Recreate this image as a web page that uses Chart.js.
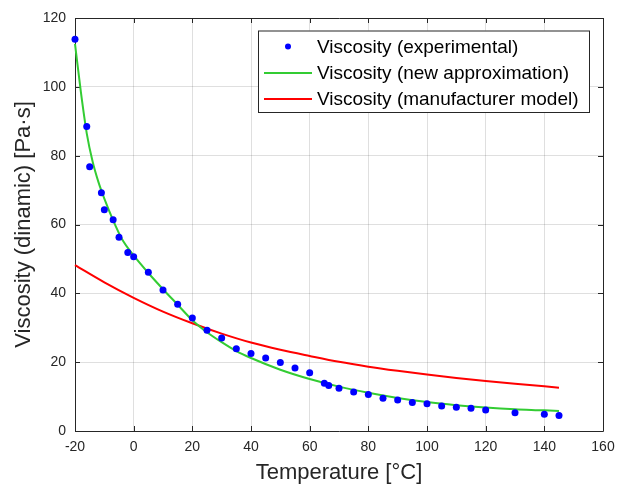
<!DOCTYPE html>
<html>
<head>
<meta charset="utf-8">
<script src="https://cdn.jsdelivr.net/npm/chart.js@4/dist/chart.umd.min.js"></script>
<style>
  html, body { margin: 0; padding: 0; background: #ffffff; }
  #wrap { width: 619px; height: 493px; }
</style>
</head>
<body>
<div id="wrap"><canvas id="c" width="619" height="493"></canvas></div>
<script>
// Experimental data (temperature in °C, viscosity in Pa·s)
const expTemps = [-20, -16, -15, -11, -10, -7, -5, -2, 0, 5, 10, 15, 20, 25, 30, 35, 40, 45, 50, 55, 60, 65, 66.5, 70, 75, 80, 85, 90, 95, 100, 105, 110, 115, 120, 130, 140, 145];
const expVisc  = [113.8, 88.5, 76.8, 69.2, 64.3, 61.4, 56.3, 51.9, 50.6, 46.1, 41.0, 36.8, 32.8, 29.3, 27.0, 23.9, 22.5, 21.2, 19.9, 18.3, 16.9, 13.9, 13.2, 12.4, 11.3, 10.6, 9.5, 9.0, 8.3, 7.9, 7.3, 6.9, 6.6, 6.1, 5.3, 4.9, 4.5];

// New approximation curve
const newTemps = [-20, -18, -16, -14, -12, -10, -7, -4, 0, 5, 10, 15, 20, 25, 30, 35, 40, 50, 60, 70, 80, 90, 100, 110, 120, 130, 140, 145];
const newVisc  = [112.5, 98.5, 86.5, 78.3, 72.3, 67.5, 61.2, 55.8, 51.0, 45.9, 41.2, 36.7, 32.2, 28.7, 25.8, 23.2, 21.2, 17.8, 15.1, 12.9, 11.1, 9.6, 8.4, 7.5, 6.8, 6.3, 6.0, 5.8];

// Manufacturer model curve
const mfrTemps = [-20, -10, 0, 10, 20, 30, 40, 50, 60, 70, 80, 90, 100, 110, 120, 130, 140, 145];
const mfrVisc  = [48.2, 43.2, 38.7, 34.7, 31.3, 28.3, 25.7, 23.6, 21.8, 20.1, 18.7, 17.5, 16.4, 15.4, 14.5, 13.7, 13.0, 12.6];

// Axis ticks
const xTicks = [-20, 0, 20, 40, 60, 80, 100, 120, 140, 160];
const yTicks = [0, 20, 40, 60, 80, 100, 120];

const seriesLabels = ['Viscosity (experimental)', 'Viscosity (new approximation)', 'Viscosity (manufacturer model)'];
const xTitle = 'Temperature [°C]';
const yTitle = 'Viscosity (dinamic) [Pa·s]';

const FONT = '"Liberation Sans", Arial, Helvetica, sans-serif';
const AXIS_COLOR = '#262626';
const BLUE = '#0000ff', GREEN = '#33cc33', RED = '#ff0000';

const toXY = (xs, ys) => xs.map((x, i) => ({ x: x, y: ys[i] }));

// Box + inward tick marks (MATLAB style)
const boxPlugin = {
  id: 'boxPlugin',
  beforeDatasetsDraw(chart) {
    const { ctx, chartArea: a, scales: { x, y } } = chart;
    ctx.save();
    ctx.strokeStyle = AXIS_COLOR;
    ctx.lineWidth = 1;
    const tl = 5;
    ctx.beginPath();
    xTicks.forEach(v => {
      const px = Math.round(x.getPixelForValue(v)) + 0.5;
      ctx.moveTo(px, a.bottom); ctx.lineTo(px, a.bottom - tl);
      ctx.moveTo(px, a.top); ctx.lineTo(px, a.top + tl);
    });
    yTicks.forEach(v => {
      const py = Math.round(y.getPixelForValue(v)) + 0.5;
      ctx.moveTo(a.left, py); ctx.lineTo(a.left + tl, py);
      ctx.moveTo(a.right, py); ctx.lineTo(a.right - tl, py);
    });
    ctx.stroke();
    ctx.beginPath();
    ctx.rect(Math.round(a.left) + 0.5, Math.round(a.top) + 0.5, Math.round(a.right - a.left), Math.round(a.bottom - a.top));
    ctx.stroke();
    ctx.restore();
  }
};

// Legend box inside the plot, top right
const legendPlugin = {
  id: 'legendPlugin',
  afterDatasetsDraw(chart) {
    const { ctx, chartArea: a } = chart;
    ctx.save();
    const bx = a.right - 345, by = a.top + 12.5, bw = 331, bh = 81.5;
    ctx.fillStyle = '#ffffff';
    ctx.fillRect(bx, by, bw, bh);
    ctx.strokeStyle = AXIS_COLOR;
    ctx.lineWidth = 1;
    ctx.strokeRect(bx + 0.5, by + 0.5, bw, bh);
    ctx.font = '19px ' + FONT;
    ctx.textBaseline = 'middle';
    const rows = [by + 16, by + 42.5, by + 68.5];
    const lx1 = bx + 6, lx2 = bx + 54, tx = bx + 59;
    chart.data.datasets.forEach((ds, i) => {
      const ry = rows[i];
      if (i === 0) {
        ctx.fillStyle = BLUE;
        ctx.beginPath();
        ctx.arc(bx + 30, ry, 3, 0, Math.PI * 2);
        ctx.fill();
      } else {
        ctx.strokeStyle = ds.borderColor;
        ctx.lineWidth = 2;
        ctx.beginPath();
        ctx.moveTo(lx1, ry); ctx.lineTo(lx2, ry);
        ctx.stroke();
      }
      ctx.fillStyle = '#000000';
      ctx.fillText(ds.label, tx, ry + 1);
    });
    ctx.restore();
  }
};

new Chart(document.getElementById('c'), {
  type: 'scatter',
  data: {
    datasets: [
      {
        label: seriesLabels[0],
        data: toXY(expTemps, expVisc),
        showLine: false,
        pointRadius: 3.5,
        pointBackgroundColor: BLUE,
        pointBorderColor: BLUE,
        pointBorderWidth: 0,
        clip: false
      },
      {
        label: seriesLabels[1],
        data: toXY(newTemps, newVisc),
        showLine: true,
        borderColor: GREEN,
        borderWidth: 2,
        pointRadius: 0,
        cubicInterpolationMode: 'monotone',
        clip: false
      },
      {
        label: seriesLabels[2],
        data: toXY(mfrTemps, mfrVisc),
        showLine: true,
        borderColor: RED,
        borderWidth: 2,
        pointRadius: 0,
        cubicInterpolationMode: 'monotone',
        clip: false
      }
    ]
  },
  options: {
    responsive: false,
    animation: false,
    devicePixelRatio: 1,
    layout: { padding: { left: 0, right: 16, top: 18, bottom: 0 } },
    plugins: { legend: { display: false }, tooltip: { enabled: false } },
    scales: {
      x: {
        type: 'linear',
        min: -20, max: 160,
        afterBuildTicks(scale) { scale.ticks = xTicks.map(v => ({ value: v })); },
        afterFit(scale) { scale.height = 62; scale.paddingLeft = 0; scale.paddingRight = 0; },
        grid: { color: 'rgba(38,38,38,0.15)', drawTicks: false },
        border: { display: false },
        ticks: { color: AXIS_COLOR, font: { family: FONT, size: 14 }, padding: 8, maxRotation: 0 },
        title: { display: true, text: xTitle, color: AXIS_COLOR, font: { family: FONT, size: 22 }, padding: { top: 0, bottom: 7 } }
      },
      y: {
        type: 'linear',
        min: 0, max: 120,
        afterBuildTicks(scale) { scale.ticks = yTicks.map(v => ({ value: v })); },
        afterFit(scale) { scale.width = 75; scale.paddingTop = 0; scale.paddingBottom = 0; },
        grid: { color: 'rgba(38,38,38,0.15)', drawTicks: false },
        border: { display: false },
        ticks: { color: AXIS_COLOR, font: { family: FONT, size: 14 }, padding: 9 },
        title: { display: true, text: yTitle, color: AXIS_COLOR, font: { family: FONT, size: 22 }, padding: { top: 11, bottom: 0 } }
      }
    }
  },
  plugins: [boxPlugin, legendPlugin]
});
</script>
</body>
</html>
